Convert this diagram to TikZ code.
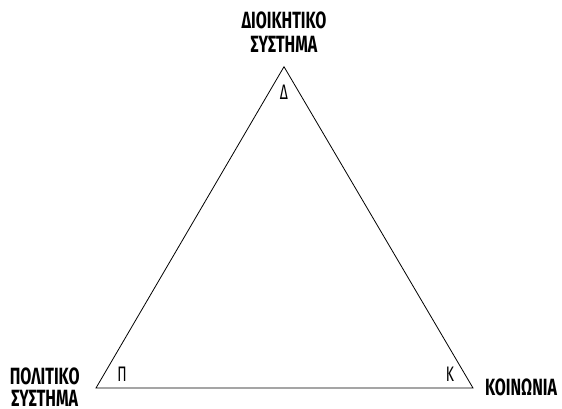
\documentclass[tikz,border=0pt]{standalone}
\usepackage{fontspec}
\setmainfont{Fira Sans}
\newfontfamily\labfont[FakeStretch=0.68]{Fira Sans Bold}
\newfontfamily\cornfont[FakeStretch=0.66]{Fira Sans}
\begin{document}
\begin{tikzpicture}[x=1pt,y=-1pt,
  big/.style={font=\labfont\fontsize{23.5}{24}\selectfont, align=center, inner sep=0pt},
  small/.style={font=\cornfont\fontsize{21}{21}\selectfont, inner sep=0pt},
  edge/.style={line width=0.8pt, line join=miter}]
\useasboundingbox (0,0) rectangle (562,409);
\coordinate (D) at (284,66.7);
\coordinate (P) at (96,388);
\coordinate (K) at (473,388);
\draw[edge] (D) -- (P) -- (K) -- cycle;
\node[small] (dl) at (284,92) {Δ};
\node[small] (pl) at (122,374.5) {Π};
\node[small] (kl) at (450,374.5) {Κ};
\node[big] (dt) at (284,20.5) {ΔΙΟΙΚΗΤΙΚΟ};
\node[big] (dt2) at (284,44.2) {ΣΥΣΤΗΜΑ};
\node[big] (pt) at (44.7,376.5) {ΠΟΛΙΤΙΚΟ};
\node[big] (pt2) at (44.7,398.5) {ΣΥΣΤΗΜΑ};
\node[big] (kt) at (521,387.5) {ΚΟΙΝΩΝΙΑ};
\end{tikzpicture}
\end{document}
